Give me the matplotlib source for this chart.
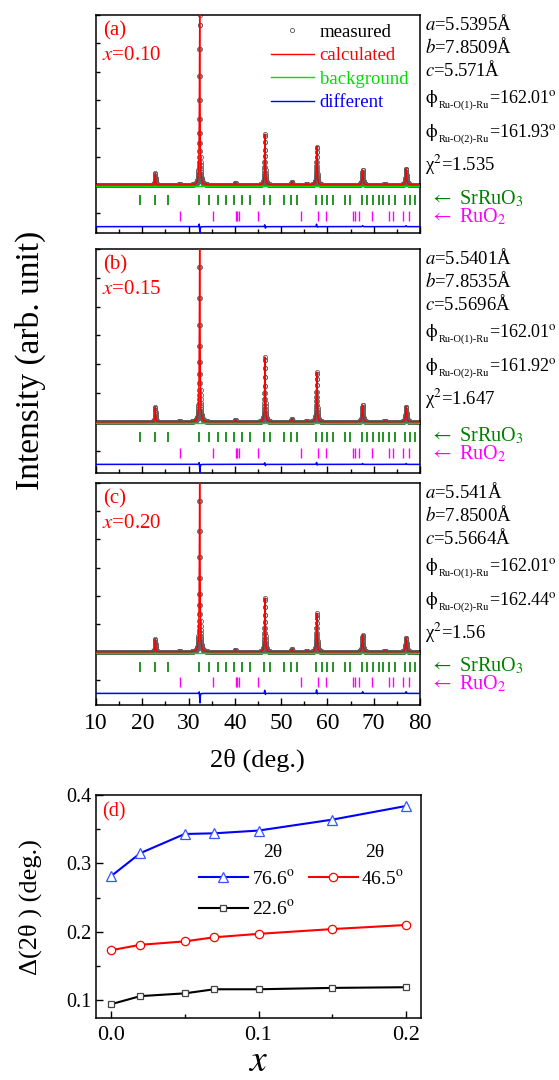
import numpy as np
import matplotlib.pyplot as plt
import matplotlib.transforms as mtransforms
from matplotlib.lines import Line2D
from matplotlib.ticker import MultipleLocator

plt.rcParams['font.family'] = ['Liberation Serif', 'DejaVu Serif']
plt.rcParams['mathtext.fontset'] = 'stix'
plt.rcParams['axes.linewidth'] = 1.1
plt.rcParams['xtick.direction'] = 'in'
plt.rcParams['ytick.direction'] = 'in'

# Bragg reflections (tick rows)
srruo3_ticks = [19.6, 22.8, 25.5, 32.3, 34.4, 36.3, 38.1, 39.8, 41.5, 43.2, 46.2, 47.7,
                50.7, 52.1, 53.4, 57.5, 58.8, 60.0, 61.3, 63.9, 64.9, 67.4, 68.6, 69.8,
                71.1, 72.1, 73.4, 74.5, 76.7, 77.9, 78.9]
ruo2_ticks = [28.1, 35.2, 40.2, 40.5, 40.8, 45.1, 54.3, 58.0, 59.6, 65.6, 65.9, 66.9,
              69.6, 73.2, 74.1, 76.3, 77.6]

# peaks of the refined patterns (heights relative to panel height)
peak_pos = [22.8, 28.1, 32.4, 40.1, 46.5, 52.3, 55.5, 57.7, 67.6, 72.4, 77.0]
peak_hwhm = [0.08, 0.08, 0.08, 0.08, 0.09, 0.09, 0.09, 0.10, 0.12, 0.12, 0.13]
int_a = [0.068, 0.006, 1.00, 0.012, 0.30, 0.018, 0.006, 0.225, 0.088, 0.008, 0.094]
int_b = [0.087, 0.006, 1.12, 0.012, 0.376, 0.018, 0.006, 0.289, 0.098, 0.008, 0.087]
int_c = [0.077, 0.006, 1.12, 0.012, 0.32, 0.018, 0.006, 0.23, 0.10, 0.008, 0.083]

# difference curve features
diff_pos = [32.3, 32.45, 46.45, 46.6, 57.65, 57.8, 67.6, 77.0]
diff_a = [0.020, -0.050, 0.012, -0.010, 0.015, -0.005, 0.006, 0.006]
diff_b = [0.015, -0.050, 0.010, -0.008, 0.012, -0.005, 0.005, 0.005]
diff_c = [0.015, -0.060, 0.020, -0.008, 0.022, -0.005, 0.010, 0.010]

panel_tags = ['(a)', '(b)', '(c)']
x_vals = ['0.10', '0.15', '0.20']
lat_a = ['5.5395', '5.5401', '5.541']
lat_b = ['7.8509', '7.8535', '7.8500']
lat_c = ['5.571', '5.5696', '5.5664']
phi1 = ['162.01', '162.01', '162.01']
phi2 = ['161.93', '161.92', '162.44']
chi2 = ['1.535', '1.647', '1.56']

# panel (d)
x_d = [0.0, 0.02, 0.05, 0.07, 0.1, 0.15, 0.2]
d_766 = [0.281, 0.315, 0.343, 0.344, 0.348, 0.364, 0.384]
d_465 = [0.173, 0.181, 0.186, 0.192, 0.197, 0.204, 0.210]
d_226 = [0.094, 0.106, 0.110, 0.116, 0.116, 0.118, 0.119]

W, H = 559, 1080
fig = plt.figure(figsize=(W / 100, H / 100), dpi=100)
renderer = fig.canvas.get_renderer()

tops = [15, 249, 483]
bottoms = [233, 473, 705]
bases = [185, 422, 652]
ints = [int_a, int_b, int_c]
diffs = [diff_a, diff_b, diff_c]

tt = np.arange(10, 80.001, 0.02)
left, right = 96, 420
FS = 13.5


def phi_text(ax, xf, yf, sub, val):
    # phi with a small lowered subscript, then the value
    t1 = ax.text(xf, yf, r'$\mathrm{\phi}$', transform=ax.transAxes, fontsize=FS, va='baseline')
    w1 = t1.get_window_extent(renderer).width
    tr2 = mtransforms.offset_copy(ax.transAxes, fig, x=w1 + 0.5, y=-5, units='dots')
    t2 = ax.text(xf, yf, sub, transform=tr2, fontsize=7.5, va='baseline')
    w2 = t2.get_window_extent(renderer).width
    tr3 = mtransforms.offset_copy(ax.transAxes, fig, x=w1 + w2 + 1, y=0, units='dots')
    ax.text(xf, yf, '=' + val + r'$^{\mathrm{o}}$', transform=tr3, fontsize=13, va='baseline')


for i in range(3):
    top, bot, base = tops[i], bottoms[i], bases[i]
    hpx = bot - top
    ax = fig.add_axes([left / W, 1 - bot / H, (right - left) / W, hpx / H])
    ax.set_xlim(10, 80)
    ax.set_ylim(-(bot - base) / (base - top), 1.0)

    calc = np.zeros_like(tt)
    for p, w, h in zip(peak_pos, peak_hwhm, ints[i]):
        calc += h / (1 + ((tt - p) / w) ** 2)
    dif = np.full_like(tt, -0.245)
    for p, a in zip(diff_pos, diffs[i]):
        dif += a / (1 + ((tt - p) / 0.05) ** 2)

    ax.plot(tt, calc, 'o', ms=3, mfc='none', mec='#606060', mew=0.6, zorder=2)
    ax.plot(tt, calc, color='red', lw=1.0, zorder=3)
    ax.plot([10, 80], [-0.004, -0.004], color='#00dd00', lw=1.0, zorder=4)
    ax.plot(tt, dif, color='blue', lw=1.1, zorder=3)
    ax.vlines(srruo3_ticks, -0.118, -0.060, colors='green', lw=1.2)
    ax.vlines(ruo2_ticks, -0.210, -0.150, colors='magenta', lw=1.0)

    ax.xaxis.set_major_locator(MultipleLocator(10))
    ax.xaxis.set_minor_locator(MultipleLocator(5))
    ax.yaxis.set_major_locator(MultipleLocator(1 / 6))
    ax.tick_params(which='major', length=5, width=1)
    ax.tick_params(which='minor', length=3, width=1)
    ax.tick_params(axis='y', which='both', labelleft=False, length=3)
    if i < 2:
        ax.tick_params(axis='x', labelbottom=False)
    else:
        ax.tick_params(axis='x', labelsize=17, pad=6)

    ax.text(0.021, 1 - 16 / hpx, panel_tags[i], transform=ax.transAxes,
            color='red', fontsize=15, va='center')
    ax.text(0.018, 1 - 40 / hpx, '$x$=' + x_vals[i], transform=ax.transAxes,
            color='red', fontsize=15, va='center')

    xf = (425 - left) / (right - left)
    ax.text(xf, 1 - 15 / hpx, '$a$=' + lat_a[i] + 'Å', transform=ax.transAxes, fontsize=FS, va='baseline')
    ax.text(xf, 1 - 38 / hpx, '$b$=' + lat_b[i] + 'Å', transform=ax.transAxes, fontsize=FS, va='baseline')
    ax.text(xf, 1 - 61 / hpx, '$c$=' + lat_c[i] + 'Å', transform=ax.transAxes, fontsize=FS, va='baseline')
    phi_text(ax, xf, 1 - 88 / hpx, 'Ru-O(1)-Ru', phi1[i])
    phi_text(ax, xf, 1 - 122 / hpx, 'Ru-O(2)-Ru', phi2[i])
    ax.text(xf, 1 - 156 / hpx, 'χ$^{2}$=' + chi2[i], transform=ax.transAxes, fontsize=FS, va='baseline')

    trans = mtransforms.blended_transform_factory(ax.transAxes, ax.transData)
    xa = (430 - left) / (right - left)
    ax.text(xa, -19 / (base - top), r'$\leftarrow$ SrRuO$_{3}$', transform=trans,
            color='green', fontsize=14.5, va='baseline', clip_on=False)
    ax.text(xa, -37 / (base - top), r'$\leftarrow$ RuO$_{2}$', transform=trans,
            color='magenta', fontsize=14.5, va='baseline', clip_on=False)

    if i == 0:
        handles = [Line2D([], [], ls='none', marker='o', ms=3, mfc='none', mec='#555555', mew=0.6),
                   Line2D([], [], color='red', lw=1.0),
                   Line2D([], [], color='#00dd00', lw=1.0),
                   Line2D([], [], color='blue', lw=1.0)]
        ax.legend(handles, ['measured', 'calculated', 'background', 'different'],
                  loc='upper right', bbox_to_anchor=(0.963, 0.961), frameon=False,
                  fontsize=FS, handlelength=2.3, handletextpad=0.3, labelspacing=0.34,
                  borderpad=0, borderaxespad=0,
                  labelcolor=['black', 'red', '#00dd00', 'blue'])

fig.text(30 / W, 1 - 360 / H, 'Intensity (arb. unit)', rotation=90, fontsize=24,
         ha='center', va='center')
fig.text(257 / W, 1 - 760 / H, '2θ (deg.)', fontsize=19, ha='center', va='center')

# panel (d)
axd = fig.add_axes([96 / W, 1 - 1018 / H, 325 / W, 223 / H])
axd.plot(x_d, d_766, '-^', color='blue', lw=1.5, ms=7, mfc='white', mec='#3355ff', mew=0.9,
         label='76.6$^{\\mathrm{o}}$')
axd.plot(x_d, d_226, '-s', color='black', lw=1.5, ms=5, mfc='white', mec='#444444', mew=0.9,
         label='22.6$^{\\mathrm{o}}$')
axd.plot(x_d, d_465, '-o', color='red', lw=1.5, ms=6, mfc='white', mec='red', mew=0.9,
         label='46.5$^{\\mathrm{o}}$')
axd.set_xlim(-0.01, 0.21)
axd.set_ylim(0.074, 0.40)
axd.xaxis.set_major_locator(MultipleLocator(0.1))
axd.xaxis.set_minor_locator(MultipleLocator(0.05))
axd.yaxis.set_major_locator(MultipleLocator(0.1))
axd.yaxis.set_minor_locator(MultipleLocator(0.05))
axd.tick_params(which='major', length=5, width=1)
axd.tick_params(which='minor', length=3, width=1)
axd.tick_params(axis='x', labelsize=16, pad=6)
axd.tick_params(axis='y', labelsize=14.5)
axd.xaxis.set_major_formatter(plt.FormatStrFormatter('%.1f'))
axd.yaxis.set_major_formatter(plt.FormatStrFormatter('%.1f'))
axd.legend(ncol=2, loc='upper left', bbox_to_anchor=(0.317, 0.668), frameon=False,
           fontsize=14, handlelength=2.5, handletextpad=0.2, columnspacing=0.75,
           labelspacing=0.6, borderpad=0, borderaxespad=0)
axd.text(0.02, 1 - 17 / 223, '(d)', transform=axd.transAxes, color='red', fontsize=14.5,
         va='center')
axd.text(0.545, 0.744, '2θ', transform=axd.transAxes, fontsize=14, ha='center', va='center')
axd.text(0.858, 0.744, '2θ', transform=axd.transAxes, fontsize=14, ha='center', va='center')

fig.text(30 / W, 1 - 907 / H, 'Δ(2θ ) (deg.)', rotation=90, fontsize=19,
         ha='center', va='center')
fig.text(258 / W, 1 - 1062 / H, '$x$', fontsize=27, ha='center', va='center')

fig.savefig('out.png', dpi=100)
